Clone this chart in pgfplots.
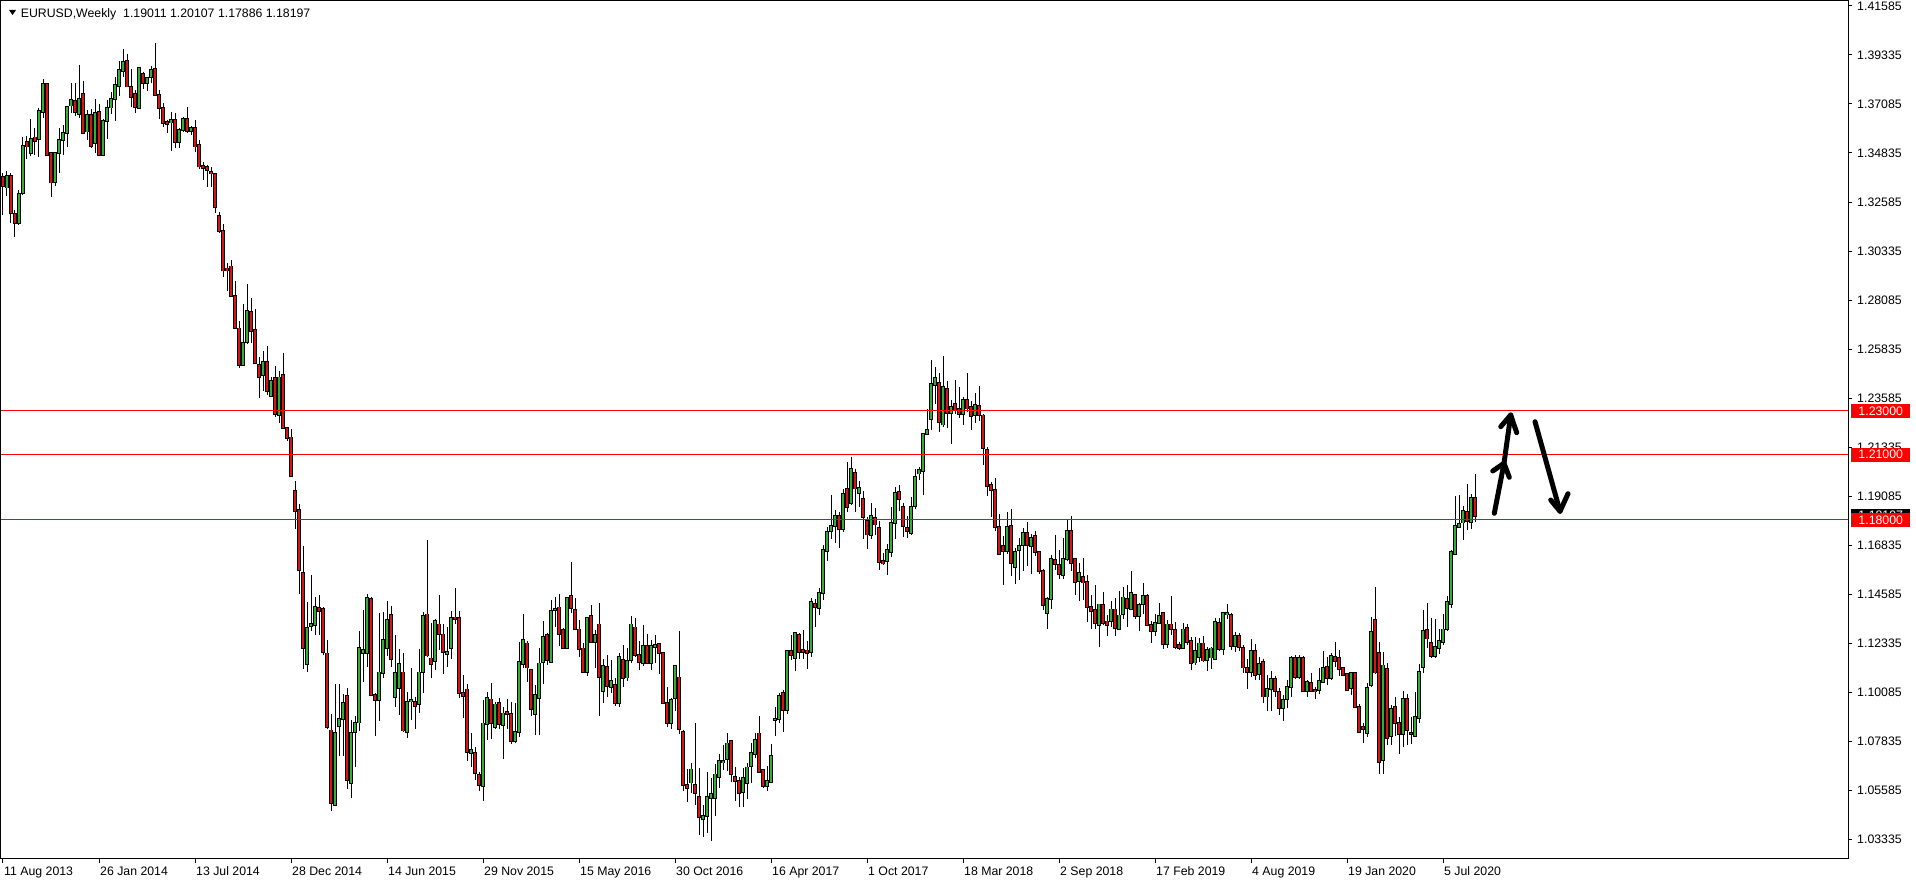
\documentclass[border=0pt]{standalone}
\usepackage{fontspec}
\setmainfont{Liberation Sans}
\usepackage{pgfplots}
\usepackage{pgfplotstable}
\pgfplotsset{compat=1.18}

\definecolor{bull}{RGB}{50,175,50}
\definecolor{bear}{RGB}{215,20,20}
\definecolor{lvl}{RGB}{255,0,0}

% weekly EURUSD candles, w = week index from 11 Aug 2013
\pgfplotstableread{
w o h l c
0 1.3375 1.3390 1.3200 1.3330
1 1.3325 1.3403 1.3286 1.3378
2 1.3378 1.3390 1.3164 1.3207
3 1.3204 1.3222 1.3097 1.3164
4 1.3164 1.3314 1.3153 1.3294
5 1.3300 1.3559 1.3290 1.3516
6 1.3533 1.3562 1.3455 1.3513
7 1.3485 1.3638 1.3470 1.3546
8 1.3555 1.3597 1.3475 1.3540
9 1.3549 1.3689 1.3464 1.3676
10 1.3673 1.3823 1.3643 1.3800
11 1.3800 1.3806 1.3470 1.3475
12 1.3482 1.3485 1.3283 1.3348
13 1.3352 1.3485 1.3334 1.3482
14 1.3485 1.3597 1.3393 1.3543
15 1.3543 1.3612 1.3475 1.3574
16 1.3574 1.3699 1.3513 1.3693
17 1.3701 1.3806 1.3669 1.3725
18 1.3721 1.3806 1.3653 1.3670
19 1.3661 1.3887 1.3643 1.3730
20 1.3753 1.3814 1.3571 1.3574
21 1.3582 1.3681 1.3543 1.3658
22 1.3658 1.3684 1.3508 1.3516
23 1.3528 1.3730 1.3482 1.3669
24 1.3670 1.3708 1.3470 1.3475
25 1.3475 1.3638 1.3470 1.3630
26 1.3630 1.3727 1.3546 1.3689
27 1.3692 1.3765 1.3663 1.3730
28 1.3730 1.3831 1.3632 1.3796
29 1.3791 1.3907 1.3745 1.3864
30 1.3861 1.3959 1.3834 1.3901
31 1.3906 1.3938 1.3785 1.3788
32 1.3788 1.3867 1.3696 1.3742
33 1.3753 1.3773 1.3666 1.3696
34 1.3689 1.3880 1.3685 1.3872
35 1.3846 1.3857 1.3777 1.3803
36 1.3806 1.3834 1.3770 1.3829
37 1.3831 1.3883 1.3803 1.3864
38 1.3869 1.3990 1.3745 1.3750
39 1.3750 1.3773 1.3638 1.3689
40 1.3689 1.3712 1.3605 1.3620
41 1.3627 1.3635 1.3574 1.3615
42 1.3623 1.3673 1.3494 1.3635
43 1.3635 1.3669 1.3505 1.3533
44 1.3533 1.3597 1.3505 1.3589
45 1.3589 1.3647 1.3582 1.3640
46 1.3638 1.3693 1.3577 1.3585
47 1.3586 1.3607 1.3566 1.3597
48 1.3597 1.3635 1.3490 1.3513
49 1.3520 1.3543 1.3409 1.3421
50 1.3424 1.3444 1.3360 1.3413
51 1.3421 1.3430 1.3326 1.3406
52 1.3397 1.3420 1.3326 1.3390
53 1.3387 1.3393 1.3210 1.3234
54 1.3195 1.3215 1.3118 1.3127
55 1.3127 1.3156 1.2915 1.2944
56 1.2954 1.2977 1.2852 1.2944
57 1.2963 1.2992 1.2823 1.2829
58 1.2829 1.2896 1.2675 1.2679
59 1.2679 1.2713 1.2498 1.2512
60 1.2512 1.2790 1.2506 1.2612
61 1.2617 1.2883 1.2608 1.2758
62 1.2754 1.2819 1.2612 1.2665
63 1.2671 1.2767 1.2515 1.2521
64 1.2512 1.2550 1.2358 1.2454
65 1.2463 1.2573 1.2392 1.2525
66 1.2525 1.2598 1.2373 1.2392
67 1.2367 1.2454 1.2362 1.2438
68 1.2450 1.2508 1.2271 1.2287
69 1.2281 1.2483 1.2246 1.2454
70 1.2467 1.2565 1.2219 1.2223
71 1.2223 1.2226 1.2162 1.2175
72 1.2179 1.2219 1.1996 1.2002
73 1.1935 1.1977 1.1758 1.1842
74 1.1848 1.1873 1.1460 1.1569
75 1.1556 1.1681 1.1117 1.1214
76 1.1140 1.1425 1.1104 1.1304
77 1.1315 1.1548 1.1290 1.1325
78 1.1317 1.1448 1.1271 1.1400
79 1.1396 1.1454 1.1271 1.1381
80 1.1392 1.1400 1.1181 1.1194
81 1.1188 1.1248 1.0842 1.0852
82 1.0835 1.0912 1.0464 1.0502
83 1.0493 1.1050 1.0487 1.0825
84 1.0854 1.1050 1.0717 1.0888
85 1.0888 1.1004 1.0719 1.0961
86 1.0992 1.1030 1.0565 1.0608
87 1.0594 1.0883 1.0525 1.0825
88 1.0827 1.0900 1.0665 1.0871
89 1.0871 1.1290 1.0833 1.1213
90 1.1189 1.1387 1.1058 1.1204
91 1.1191 1.1460 1.1124 1.1441
92 1.1437 1.1445 1.0994 1.0997
93 1.0997 1.1005 1.0809 1.0974
94 1.0974 1.1372 1.0879 1.1101
95 1.1097 1.1379 1.1077 1.1249
96 1.1211 1.1428 1.1176 1.1341
97 1.1364 1.1405 1.1124 1.1161
98 1.0986 1.1272 1.0944 1.1097
99 1.1030 1.1208 1.0905 1.1139
100 1.1101 1.1188 1.0828 1.0834
101 1.0826 1.1009 1.0798 1.0967
102 1.0967 1.1119 1.0883 1.0974
103 1.0964 1.0990 1.0840 1.0948
104 1.0954 1.1208 1.0916 1.1101
105 1.1104 1.1379 1.1008 1.1360
106 1.1367 1.1708 1.1173 1.1178
107 1.1165 1.1326 1.1077 1.1138
108 1.1153 1.1344 1.1112 1.1337
109 1.1321 1.1456 1.1204 1.1275
110 1.1275 1.1323 1.1093 1.1196
111 1.1184 1.1311 1.1124 1.1193
112 1.1211 1.1382 1.1162 1.1349
113 1.1353 1.1486 1.1323 1.1344
114 1.1349 1.1382 1.0985 1.1005
115 1.1005 1.1089 1.0890 1.0994
116 1.1023 1.1048 1.0696 1.0734
117 1.0730 1.0821 1.0665 1.0745
118 1.0730 1.0760 1.0607 1.0638
119 1.0630 1.0645 1.0557 1.0584
120 1.0581 1.0975 1.0512 1.0867
121 1.0863 1.1012 1.0791 1.0982
122 1.0977 1.1051 1.0794 1.0867
123 1.0849 1.0966 1.0840 1.0954
124 1.0959 1.0982 1.0841 1.0863
125 1.0860 1.0944 1.0702 1.0913
126 1.0921 1.0977 1.0840 1.0909
127 1.0909 1.0967 1.0771 1.0788
128 1.0786 1.0959 1.0779 1.0826
129 1.0826 1.1242 1.0806 1.1147
130 1.1138 1.1369 1.1119 1.1249
131 1.1234 1.1245 1.1058 1.1123
132 1.1112 1.1118 1.0901 1.0931
133 1.0909 1.1043 1.0814 1.0997
134 1.0982 1.1211 1.0814 1.1142
135 1.1147 1.1338 1.1048 1.1262
136 1.1272 1.1280 1.1135 1.1158
137 1.1150 1.1433 1.1145 1.1382
138 1.1387 1.1448 1.1311 1.1393
139 1.1399 1.1460 1.1222 1.1275
140 1.1295 1.1303 1.1207 1.1211
141 1.1211 1.1448 1.1207 1.1441
142 1.1453 1.1606 1.1375 1.1395
143 1.1387 1.1441 1.1295 1.1300
144 1.1298 1.1341 1.1170 1.1207
145 1.1211 1.1234 1.1097 1.1104
146 1.1104 1.1352 1.1086 1.1349
147 1.1360 1.1410 1.1237 1.1242
148 1.1239 1.1295 1.1123 1.1272
149 1.1321 1.1418 1.0902 1.1078
150 1.1017 1.1162 1.0962 1.1130
151 1.1124 1.1181 1.0990 1.1040
152 1.1035 1.1158 1.1005 1.1061
153 1.1043 1.1077 1.0947 1.0962
154 1.0959 1.1188 1.0944 1.1170
155 1.1158 1.1227 1.1032 1.1077
156 1.1077 1.1211 1.1063 1.1153
157 1.1158 1.1360 1.1145 1.1321
158 1.1307 1.1349 1.1173 1.1181
159 1.1181 1.1245 1.1112 1.1150
160 1.1145 1.1318 1.1130 1.1222
161 1.1223 1.1277 1.1139 1.1145
162 1.1145 1.1249 1.1112 1.1222
163 1.1219 1.1271 1.1145 1.1226
164 1.1231 1.1234 1.1093 1.1188
165 1.1191 1.1196 1.0959 1.0962
166 1.0959 1.1032 1.0849 1.0870
167 1.0870 1.0982 1.0841 1.0974
168 1.0982 1.1135 1.0924 1.1130
169 1.1078 1.1291 1.0818 1.0840
170 1.0829 1.0835 1.0558 1.0584
171 1.0584 1.0656 1.0508 1.0572
172 1.0596 1.0687 1.0546 1.0656
173 1.0584 1.0870 1.0493 1.0549
174 1.0531 1.0664 1.0355 1.0439
175 1.0427 1.0493 1.0344 1.0442
176 1.0442 1.0645 1.0363 1.0531
177 1.0523 1.0618 1.0329 1.0543
178 1.0523 1.0681 1.0444 1.0633
179 1.0619 1.0725 1.0572 1.0694
180 1.0688 1.0768 1.0653 1.0694
181 1.0705 1.0821 1.0649 1.0775
182 1.0785 1.0790 1.0600 1.0633
183 1.0622 1.0668 1.0512 1.0604
184 1.0603 1.0622 1.0485 1.0549
185 1.0554 1.0661 1.0485 1.0615
186 1.0595 1.0684 1.0519 1.0665
187 1.0673 1.0775 1.0592 1.0730
188 1.0727 1.0821 1.0707 1.0791
189 1.0821 1.0901 1.0638 1.0642
190 1.0653 1.0656 1.0569 1.0580
191 1.0581 1.0671 1.0558 1.0603
192 1.0600 1.0772 1.0595 1.0717
193 1.0883 1.0944 1.0811 1.0888
194 1.0886 1.1005 1.0867 1.0993
195 1.1008 1.1022 1.0829 1.0927
196 1.0927 1.1205 1.0910 1.1199
197 1.1198 1.1271 1.1156 1.1179
198 1.1167 1.1286 1.1106 1.1282
199 1.1271 1.1283 1.1162 1.1195
200 1.1205 1.1297 1.1164 1.1195
201 1.1202 1.1243 1.1115 1.1191
202 1.1195 1.1444 1.1171 1.1424
203 1.1416 1.1439 1.1309 1.1401
204 1.1396 1.1488 1.1366 1.1465
205 1.1465 1.1684 1.1432 1.1664
206 1.1658 1.1768 1.1612 1.1745
207 1.1748 1.1913 1.1713 1.1772
208 1.1772 1.1844 1.1693 1.1818
209 1.1818 1.1836 1.1670 1.1757
210 1.1757 1.1941 1.1745 1.1921
211 1.1944 1.2066 1.1837 1.1860
212 1.1878 1.2089 1.1867 1.2035
213 1.2017 1.2032 1.1837 1.1944
214 1.1925 1.1977 1.1860 1.1947
215 1.1898 1.1932 1.1712 1.1814
216 1.1794 1.1814 1.1666 1.1733
217 1.1730 1.1880 1.1715 1.1818
218 1.1810 1.1855 1.1731 1.1779
219 1.1765 1.1794 1.1569 1.1607
220 1.1612 1.1650 1.1592 1.1600
221 1.1612 1.1692 1.1550 1.1664
222 1.1653 1.1860 1.1630 1.1788
223 1.1788 1.1951 1.1711 1.1925
224 1.1928 1.1962 1.1840 1.1895
225 1.1860 1.1880 1.1722 1.1771
226 1.1763 1.1820 1.1717 1.1748
227 1.1740 1.1906 1.1733 1.1860
228 1.1864 1.2032 1.1852 1.1997
229 1.2013 1.2043 1.1982 1.2028
230 1.2023 1.2201 1.1913 1.2193
231 1.2196 1.2311 1.2191 1.2214
232 1.2262 1.2535 1.2211 1.2425
233 1.2418 1.2502 1.2334 1.2451
234 1.2430 1.2476 1.2204 1.2250
235 1.2238 1.2552 1.2226 1.2410
236 1.2402 1.2436 1.2222 1.2291
237 1.2291 1.2349 1.2150 1.2318
238 1.2334 1.2444 1.2285 1.2303
239 1.2308 1.2410 1.2268 1.2285
240 1.2285 1.2364 1.2234 1.2352
241 1.2352 1.2476 1.2295 1.2311
242 1.2318 1.2344 1.2211 1.2276
243 1.2280 1.2383 1.2246 1.2329
244 1.2323 1.2413 1.2253 1.2283
245 1.2280 1.2288 1.2051 1.2130
246 1.2123 1.2135 1.1908 1.1956
247 1.1959 1.1974 1.1814 1.1936
248 1.1939 1.1993 1.1748 1.1768
249 1.1768 1.1829 1.1641 1.1643
250 1.1681 1.1727 1.1503 1.1658
251 1.1658 1.1837 1.1646 1.1768
252 1.1772 1.1849 1.1542 1.1603
253 1.1584 1.1673 1.1505 1.1653
254 1.1661 1.1717 1.1523 1.1681
255 1.1684 1.1763 1.1564 1.1740
256 1.1740 1.1791 1.1587 1.1684
257 1.1681 1.1737 1.1552 1.1717
258 1.1727 1.1748 1.1635 1.1653
259 1.1653 1.1656 1.1554 1.1565
260 1.1565 1.1577 1.1386 1.1409
261 1.1375 1.1447 1.1298 1.1439
262 1.1439 1.1641 1.1390 1.1623
263 1.1618 1.1733 1.1572 1.1597
264 1.1595 1.1661 1.1531 1.1551
265 1.1549 1.1717 1.1531 1.1623
266 1.1620 1.1802 1.1612 1.1748
267 1.1748 1.1817 1.1565 1.1603
268 1.1620 1.1624 1.1458 1.1516
269 1.1519 1.1603 1.1428 1.1557
270 1.1539 1.1624 1.1432 1.1513
271 1.1516 1.1546 1.1332 1.1401
272 1.1401 1.1458 1.1298 1.1381
273 1.1386 1.1501 1.1301 1.1327
274 1.1318 1.1416 1.1216 1.1413
275 1.1409 1.1470 1.1318 1.1329
276 1.1335 1.1366 1.1269 1.1318
277 1.1338 1.1427 1.1309 1.1390
278 1.1390 1.1442 1.1267 1.1304
279 1.1301 1.1473 1.1298 1.1362
280 1.1370 1.1491 1.1347 1.1445
281 1.1439 1.1500 1.1309 1.1396
282 1.1393 1.1566 1.1390 1.1465
283 1.1457 1.1462 1.1347 1.1358
284 1.1358 1.1419 1.1292 1.1409
285 1.1416 1.1511 1.1370 1.1450
286 1.1452 1.1462 1.1315 1.1318
287 1.1320 1.1335 1.1235 1.1289
288 1.1289 1.1370 1.1269 1.1328
289 1.1328 1.1419 1.1325 1.1360
290 1.1373 1.1378 1.1210 1.1230
291 1.1231 1.1343 1.1215 1.1321
292 1.1321 1.1450 1.1272 1.1298
293 1.1297 1.1332 1.1210 1.1218
294 1.1228 1.1240 1.1205 1.1213
295 1.1214 1.1326 1.1208 1.1298
296 1.1303 1.1321 1.1227 1.1239
297 1.1246 1.1265 1.1112 1.1143
298 1.1146 1.1265 1.1135 1.1201
299 1.1170 1.1257 1.1150 1.1234
300 1.1234 1.1268 1.1150 1.1155
301 1.1158 1.1219 1.1107 1.1204
302 1.1169 1.1219 1.1117 1.1211
303 1.1162 1.1349 1.1158 1.1334
304 1.1326 1.1349 1.1199 1.1208
305 1.1208 1.1375 1.1181 1.1372
306 1.1370 1.1413 1.1346 1.1372
307 1.1364 1.1372 1.1204 1.1222
308 1.1222 1.1288 1.1193 1.1269
309 1.1269 1.1283 1.1199 1.1216
310 1.1214 1.1227 1.1100 1.1123
311 1.1123 1.1162 1.1025 1.1104
312 1.1104 1.1253 1.1078 1.1201
313 1.1201 1.1231 1.1066 1.1089
314 1.1094 1.1173 1.1066 1.1138
315 1.1150 1.1162 1.0959 1.0990
316 1.0990 1.1089 1.0925 1.1025
317 1.1025 1.1109 1.0925 1.1071
318 1.1071 1.1086 1.0987 1.1017
319 1.1013 1.1028 1.0906 1.0939
320 1.0939 1.0997 1.0878 1.0974
321 1.0979 1.1066 1.0939 1.1035
322 1.1032 1.1178 1.0987 1.1169
323 1.1166 1.1181 1.1071 1.1078
324 1.1078 1.1181 1.1071 1.1166
325 1.1169 1.1178 1.1013 1.1017
326 1.1017 1.1066 1.0987 1.1058
327 1.1051 1.1097 1.1013 1.1016
328 1.1020 1.1032 1.0979 1.1013
329 1.1020 1.1120 1.1002 1.1061
330 1.1058 1.1201 1.1054 1.1120
331 1.1127 1.1173 1.1043 1.1074
332 1.1074 1.1188 1.1066 1.1178
333 1.1173 1.1239 1.1124 1.1153
334 1.1169 1.1204 1.1084 1.1117
335 1.1120 1.1125 1.1084 1.1089
336 1.1094 1.1098 1.1017 1.1020
337 1.1031 1.1100 1.0997 1.1097
338 1.1097 1.1100 1.0941 1.0944
339 1.0944 1.0954 1.0824 1.0829
340 1.0849 1.0867 1.0779 1.0841
341 1.0824 1.1054 1.0806 1.1028
342 1.1043 1.1357 1.1032 1.1288
343 1.1341 1.1494 1.1094 1.1100
344 1.1190 1.1239 1.0636 1.0690
345 1.0698 1.1194 1.0637 1.1133
346 1.1115 1.1146 1.0766 1.0800
347 1.0809 1.0953 1.0766 1.0935
348 1.0942 1.0988 1.0809 1.0869
349 1.0870 1.0896 1.0728 1.0820
350 1.0820 1.1014 1.0759 1.0980
351 1.0980 1.1003 1.0766 1.0835
352 1.0825 1.0896 1.0774 1.0820
353 1.0809 1.1011 1.0804 1.0896
354 1.0892 1.1141 1.0870 1.1103
355 1.1126 1.1386 1.1100 1.1291
356 1.1297 1.1421 1.1213 1.1256
357 1.1236 1.1350 1.1166 1.1175
358 1.1176 1.1347 1.1166 1.1217
359 1.1213 1.1301 1.1187 1.1245
360 1.1240 1.1370 1.1228 1.1298
361 1.1298 1.1451 1.1289 1.1424
362 1.1416 1.1661 1.1396 1.1653
363 1.1643 1.1909 1.1638 1.1772
364 1.1768 1.1916 1.1763 1.1783
365 1.1788 1.1864 1.1707 1.1840
366 1.1837 1.1967 1.1753 1.1795
367 1.1791 1.1921 1.1757 1.1901
368 1.19011 1.20107 1.17886 1.18197
}\candles

\begin{document}
\begin{tikzpicture}[font=\fontsize{12.3bp}{14bp}\selectfont]
\useasboundingbox (0,-25bp) rectangle (1916bp,859bp);
\begin{axis}[
  at={(1bp,0bp)}, anchor=south west,
  scale only axis, width=1847bp, height=858bp,
  xmin=-0.5, xmax=461.25, ymin=1.0245, ymax=1.41807,
  axis line style={black, line width=1bp},
  clip=false,
  xtick={0,24,...,360},
  xticklabels={11 Aug 2013,26 Jan 2014,13 Jul 2014,28 Dec 2014,14 Jun 2015,29 Nov 2015,15 May 2016,30 Oct 2016,16 Apr 2017,1 Oct 2017,18 Mar 2018,2 Sep 2018,17 Feb 2019,4 Aug 2019,19 Jan 2020,5 Jul 2020},
  ytick={1.03335,1.05585,1.07835,1.10085,1.12335,1.14585,1.16835,1.19085,1.21335,1.23585,1.25835,1.28085,1.30335,1.32585,1.34835,1.37085,1.39335,1.41585},
  yticklabels={1.03335,1.05585,1.07835,1.10085,1.12335,1.14585,1.16835,1.19085,1.21335,1.23585,1.25835,1.28085,1.30335,1.32585,1.34835,1.37085,1.39335,1.41585},
  xtick pos=left, ytick pos=right, yticklabel pos=right,
  tick align=outside, major tick length=4bp,
  tick style={black, line width=1bp},
  tick label style={font=\fontsize{12.3bp}{14bp}\selectfont, inner sep=0pt},
  xticklabel style={anchor=base west, xshift=1bp, yshift=-13bp},
  yticklabel style={anchor=west, xshift=5bp},
]
% wicks
\addplot[draw=none, mark=none, error bars/.cd, y dir=both, y explicit, error mark=none,
  error bar style={draw=black, line width=1bp}]
  table[x=w, y expr={(\thisrow{h}+\thisrow{l})/2}, y error expr={(\thisrow{h}-\thisrow{l})/2}] {\candles};
% body outline
\addplot[draw=none, mark=none, error bars/.cd, y dir=both, y explicit, error mark=none,
  error bar style={draw=black, line width=3.2bp}]
  table[x=w, y expr={(\thisrow{o}+\thisrow{c})/2}, y error expr={abs(\thisrow{c}-\thisrow{o})/2+0.0004}] {\candles};
% bull bodies
\addplot[draw=none, mark=none, restrict expr to domain={\thisrow{c}-\thisrow{o}}{0:1},
  error bars/.cd, y dir=both, y explicit, error mark=none,
  error bar style={draw=bull, line width=1.4bp}]
  table[x=w, y expr={(\thisrow{o}+\thisrow{c})/2}, y error expr={(\thisrow{c}-\thisrow{o})/2}] {\candles};
% bear bodies
\addplot[draw=none, mark=none, restrict expr to domain={\thisrow{c}-\thisrow{o}}{-1:0},
  error bars/.cd, y dir=both, y explicit, error mark=none,
  error bar style={draw=bear, line width=1.4bp}]
  table[x=w, y expr={(\thisrow{o}+\thisrow{c})/2}, y error expr={(\thisrow{o}-\thisrow{c})/2}] {\candles};
% level lines
\addplot[lvl, line width=1bp] coordinates {(-0.5,1.23) (461.25,1.23)};
\addplot[lvl, line width=1bp] coordinates {(-0.5,1.21) (461.25,1.21)};
\addplot[lvl, line width=1bp] coordinates {(-0.5,1.18) (461.25,1.18)};
\end{axis}

% price tags on the right scale
\node[fill=black, text=white, inner sep=0pt, minimum width=59bp, minimum height=14bp, anchor=west] at (1851bp,343.3bp) {1.18197};
\node[fill=lvl, text=white, inner sep=0pt, minimum width=59bp, minimum height=14bp, anchor=west] at (1851bp,448.0bp) {1.23000};
\node[fill=lvl, text=white, inner sep=0pt, minimum width=59bp, minimum height=14bp, anchor=west] at (1851bp,404.4bp) {1.21000};
\node[fill=lvl, text=white, inner sep=0pt, minimum width=59bp, minimum height=14bp, anchor=west] at (1851bp,339.0bp) {1.18000};

% header
\fill (9bp,849bp) -- (16bp,849bp) -- (12.5bp,844bp) -- cycle;
\node[anchor=base west, inner sep=0pt] at (20.7bp,841.7bp) {EURUSD,Weekly\ \ 1.19011 1.20107 1.17886 1.18197};

% hand-drawn arrows
\begin{scope}[line width=5bp, line cap=round, line join=round]
\draw (1494.3bp,345.7bp) -- (1504bp,395.7bp) -- (1510.7bp,444bp);
\draw (1492.7bp,388bp) -- (1504bp,395.7bp) -- (1509.3bp,381.7bp);
\draw (1500.7bp,432.3bp) -- (1510.7bp,444bp) -- (1516.7bp,426.3bp);
\draw (1535bp,437.3bp) -- (1560bp,347.7bp);
\draw (1550.7bp,359bp) -- (1560bp,347.7bp) -- (1568bp,365.3bp);
\end{scope}
\end{tikzpicture}
\end{document}
